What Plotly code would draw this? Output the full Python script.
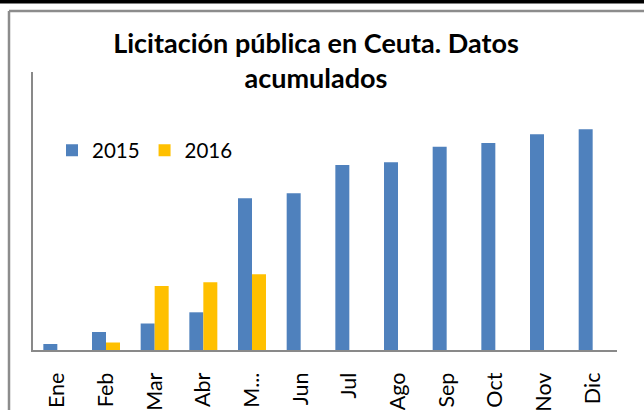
import plotly.graph_objects as go

categories = ["Ene", "Feb", "Mar", "Abr", "May", "Jun", "Jul", "Ago", "Sep", "Oct", "Nov", "Dic"]
tick_labels = ["Ene", "Feb", "Mar", "Abr", "M...", "Jun", "Jul", "Ago", "Sep", "Oct", "Nov", "Dic"]
values_2015 = [6, 18, 26.5, 37.7, 151.7, 156.7, 185, 187.7, 203.3, 207, 215.7, 220.7]
values_2016 = [None, 7.5, 64, 67.7, 75.7, None, None, None, None, None, None, None]

W, H = 644, 410
L, R, T, B = 33, 27, 72, 60
PW, PH = W - L - R, H - T - B

def px_x(x):
    return (x - L) / PW

def px_y(y):
    return (H - B - y) / PH

fig = go.Figure()
fig.add_trace(go.Bar(x=categories, y=values_2015, name="2015",
                     marker=dict(color="#4F81BD", line=dict(width=0))))
fig.add_trace(go.Bar(x=categories, y=values_2016, name="2016",
                     marker=dict(color="#FFC000", line=dict(width=0))))

fig.update_layout(
    width=W, height=H,
    margin=dict(l=L, r=R, t=T, b=B, autoexpand=False),
    paper_bgcolor="white", plot_bgcolor="white",
    barmode="group", bargap=0.425, bargroupgap=0,
    font=dict(family="Lato", color="black"),
    title=dict(text="<b>Licitación pública en Ceuta. Datos<br>acumulados</b>",
               x=316 / W, xanchor="center", y=1 - 53 / H, yanchor="top",
               font=dict(family="Lato", size=27, color="black")),
    legend=dict(orientation="h", x=px_x(52), y=px_y(150.5),
                xanchor="left", yanchor="middle", bgcolor="rgba(0,0,0,0)",
                font=dict(family="Lato", size=20.5, color="black"),
                itemwidth=30, traceorder="normal"),
    showlegend=True,
)
fig.update_xaxes(
    tickmode="array", tickvals=categories, ticktext=tick_labels,
    tickangle=-90, tickfont=dict(family="Lato", size=21.5, color="black"),
    showline=True, linecolor="#898989", linewidth=2,
    ticks="outside", ticklen=12, tickcolor="rgba(0,0,0,0)",
    showgrid=False, automargin=False, zeroline=False,
)
fig.update_yaxes(
    range=[0, 278], showticklabels=False, showgrid=False, zeroline=False,
    showline=True, linecolor="#898989", linewidth=2, ticks="",
)

# outer frame (black band on top, grey chart-area border)
fig.add_shape(type="rect", xref="paper", yref="paper",
              x0=px_x(-10), x1=px_x(W + 10), y0=px_y(3.5), y1=px_y(-10),
              fillcolor="black", line=dict(width=0), layer="above")
fig.add_shape(type="line", xref="paper", yref="paper",
              x0=px_x(9), x1=px_x(W + 10), y0=px_y(11), y1=px_y(11),
              line=dict(color="#8c8c8c", width=2.5), layer="above")
fig.add_shape(type="line", xref="paper", yref="paper",
              x0=px_x(9), x1=px_x(9), y0=px_y(11), y1=px_y(H + 10),
              line=dict(color="#8c8c8c", width=2.5), layer="above")

fig.write_html("out.html", config={"displayModeBar": False},
               post_script="document.body.style.margin='0';")
